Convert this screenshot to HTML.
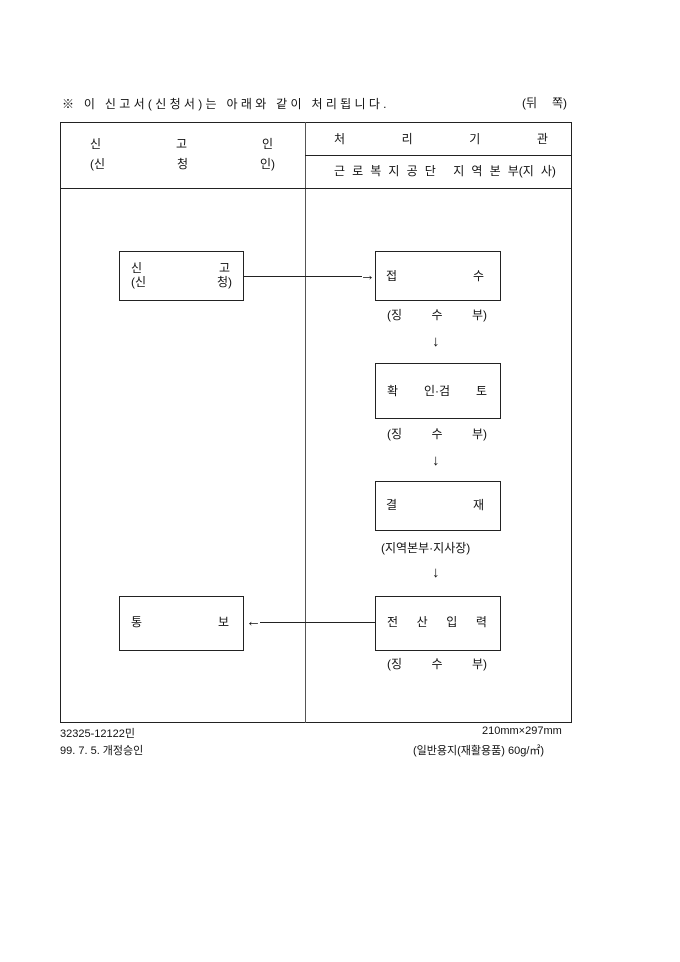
<!DOCTYPE html>
<html><head><meta charset="utf-8"><style>
body{margin:0;background:#fff;width:680px;height:962px;position:relative;font-family:"Liberation Sans","Noto Sans CJK KR","NanumGothic",sans-serif;font-size:12px;color:#111}
.a{position:absolute;white-space:nowrap}
.f{position:absolute;display:flex;justify-content:space-between;white-space:nowrap;line-height:14px}
.b{position:absolute;border:1px solid #222;box-sizing:border-box}
.l{position:absolute;background:#222}
.ar{position:absolute;font-size:15px;line-height:15px}
</style></head><body>
<div class="a" style="left:62px;top:95px;letter-spacing:3.3px">※ 이 신고서(신청서)는 아래와 같이 처리됩니다.</div>
<div class="f" style="left:522px;top:96px;width:45px"><span>(뒤</span><span>쪽)</span></div>
<div class="b" style="left:60px;top:122px;width:512px;height:601px"></div>
<div class="l" style="left:305px;top:122px;width:1px;height:601px;background:#555"></div>
<div class="l" style="left:60px;top:188px;width:512px;height:1px"></div>
<div class="l" style="left:305px;top:155px;width:267px;height:1px"></div>
<div class="f" style="left:90px;top:137px;width:183px"><span>신</span><span>고</span><span>인</span></div>
<div class="f" style="left:90px;top:157px;width:185px"><span>(신</span><span>청</span><span>인)</span></div>
<div class="f" style="left:334px;top:132px;width:214px"><span>처</span><span>리</span><span>기</span><span>관</span></div>
<div class="f" style="left:334px;top:164px;width:222px"><span>근</span><span>로</span><span>복</span><span>지</span><span>공</span><span>단</span><span>&nbsp;</span><span>지</span><span>역</span><span>본</span><span>부(지</span><span>사)</span></div>
<div class="b" style="left:119px;top:251px;width:125px;height:50px"></div>
<div class="f" style="left:131px;top:261px;width:99px"><span>신</span><span>고</span></div>
<div class="f" style="left:131px;top:275px;width:101px"><span>(신</span><span>청)</span></div>
<div class="l" style="left:244px;top:276px;width:118px;height:1px"></div>
<div class="ar" style="left:360px;top:268px">→</div>
<div class="b" style="left:375px;top:251px;width:126px;height:50px"></div>
<div class="f" style="left:386px;top:269px;width:98px"><span>접</span><span>수</span></div>
<div class="f" style="left:387px;top:308px;width:100px"><span>(징</span><span>수</span><span>부)</span></div>
<div class="ar" style="left:432px;top:334px">↓</div>
<div class="b" style="left:375px;top:363px;width:126px;height:56px"></div>
<div class="f" style="left:387px;top:384px;width:100px"><span>확</span><span>인·검</span><span>토</span></div>
<div class="f" style="left:387px;top:427px;width:100px"><span>(징</span><span>수</span><span>부)</span></div>
<div class="ar" style="left:432px;top:453px">↓</div>
<div class="b" style="left:375px;top:481px;width:126px;height:50px"></div>
<div class="f" style="left:386px;top:498px;width:98px"><span>결</span><span>재</span></div>
<div class="a" style="left:381px;top:539px">(지역본부·지사장)</div>
<div class="ar" style="left:432px;top:565px">↓</div>
<div class="b" style="left:375px;top:596px;width:126px;height:55px"></div>
<div class="f" style="left:387px;top:615px;width:100px"><span>전</span><span>산</span><span>입</span><span>력</span></div>
<div class="f" style="left:387px;top:657px;width:100px"><span>(징</span><span>수</span><span>부)</span></div>
<div class="b" style="left:119px;top:596px;width:125px;height:55px"></div>
<div class="f" style="left:131px;top:615px;width:98px"><span>통</span><span>보</span></div>
<div class="ar" style="left:246px;top:614px">←</div>
<div class="l" style="left:260px;top:622px;width:115px;height:1px"></div>
<div class="a" style="left:60px;top:725px;font-size:11px">32325-12122민</div>
<div class="a" style="left:60px;top:742px;font-size:11px">99. 7. 5. 개정승인</div>
<div class="a" style="left:482px;top:725px;font-size:11px">210mm×297mm</div>
<div class="a" style="left:413px;top:742px;font-size:11px">(일반용지(재활용품) 60g/㎡)</div>
</body></html>
